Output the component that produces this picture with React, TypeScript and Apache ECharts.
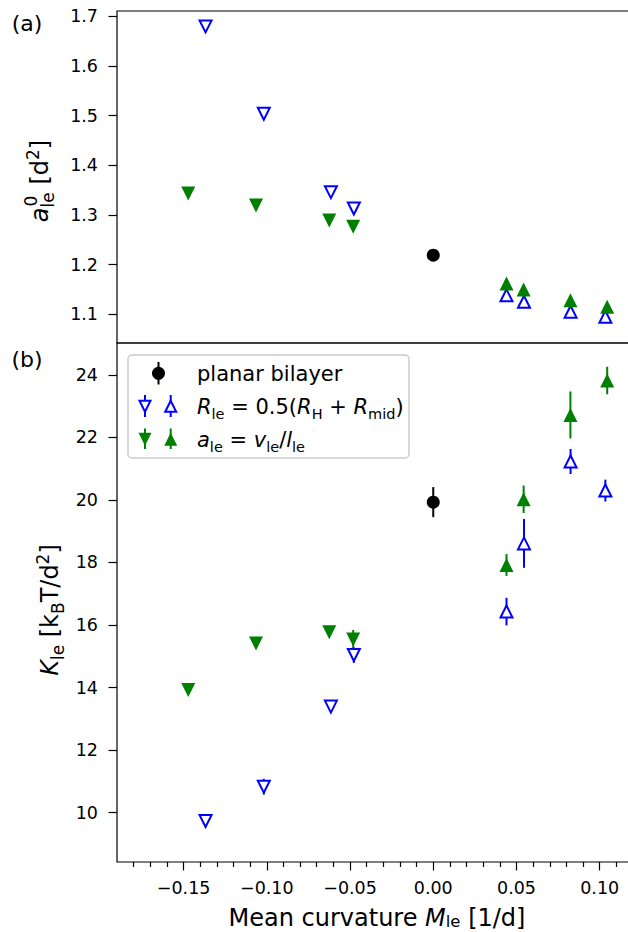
import React, { useEffect, useRef } from "react";
import * as echarts from "echarts";

// ---------- data ----------
const planarX = [0.0];
const blueDownX = [-0.1368, -0.1018, -0.0615, -0.0477];
const blueUpX = [0.044, 0.0545, 0.0825, 0.1034];
const greenDownX = [-0.1472, -0.1065, -0.0625, -0.0481];
const greenUpX = [0.044, 0.0543, 0.0824, 0.1045];

// panel (a): a0_le [d^2]
const aPlanar = [1.219];
const aBlueDown = [1.68, 1.504, 1.346, 1.313];
const aBlueUp = [1.138, 1.125, 1.105, 1.095];
const aGreenDown = [1.343, 1.319, 1.289, 1.276];
const aGreenUp = [1.162, 1.15, 1.128, 1.115];

// panel (b): K_le [kBT/d^2]
const kPlanar = [19.93];
const kPlanarErr = [0.48];
const kBlueDown = [9.73, 10.83, 13.39, 15.04];
const kBlueDownErr = [0.1, 0.25, 0.12, 0.25];
const kBlueUp = [16.43, 18.61, 21.23, 20.3];
const kBlueUpErr = [0.44, 0.78, 0.4, 0.35];
const kGreenDown = [13.92, 15.41, 15.77, 15.54];
const kGreenDownErr = [0.12, 0.12, 0.12, 0.3];
const kGreenUp = [17.92, 20.02, 22.72, 23.82];
const kGreenUpErr = [0.35, 0.44, 0.75, 0.44];

// ticks
const xMajorTicks = [-0.15, -0.1, -0.05, 0, 0.05, 0.1];
const xMinorTicks = [
  -0.18, -0.17, -0.16, -0.14, -0.13, -0.12, -0.11, -0.09, -0.08, -0.07, -0.06,
  -0.04, -0.03, -0.02, -0.01, 0.01, 0.02, 0.03, 0.04, 0.06, 0.07, 0.08, 0.09, 0.11,
];
const aTicks = [1.1, 1.2, 1.3, 1.4, 1.5, 1.6, 1.7];
const kTicks = [10, 12, 14, 16, 18, 20, 22, 24];

const X_MIN = -0.19;
const X_MAX = 0.12;
const A_MIN = 1.042;
const A_MAX = 1.711;
const K_MIN = 8.42;
const K_MAX = 25.02;

const BLUE = "#0000ff";
const GREEN = "#008000";
const BLACK = "#000000";
const FONT = "DejaVu Sans";

const zip = (xs: number[], ys: number[], es?: number[]) =>
  xs.map((x, i) => (es ? [x, ys[i], es[i]] : [x, ys[i]]));

export default function App() {
  const ref = useRef<HTMLDivElement>(null);

  useEffect(() => {
    if (!ref.current) return;
    const chart = echarts.init(ref.current, null, { renderer: "svg" });

    const tickLine = { color: BLACK, width: 1.2 };
    const labelBase = { color: BLACK, fontFamily: FONT, fontSize: 17.5 };
    const fmtX = (v: number) =>
      (v < -1e-9 ? "\u2212" : "") + Math.abs(v).toFixed(2);

    const scatter = (
      name: string,
      data: number[][],
      xi: number,
      yi: number,
      color: string,
      filled: boolean,
      rotate: number,
      symbol = "triangle"
    ) => ({
      name,
      type: "scatter",
      xAxisIndex: xi,
      yAxisIndex: yi,
      data,
      symbol,
      symbolRotate: rotate,
      symbolSize: symbol === "circle" ? 13 : filled ? 14 : 12,
      z: 5,
      itemStyle: filled
        ? { color, borderWidth: 0, opacity: 1 }
        : { color: "#ffffff", borderColor: color, borderWidth: 2, opacity: 1 },
      emphasis: { disabled: true },
    });

    const errbars = (data: number[][], color: string) => ({
      type: "custom",
      xAxisIndex: 1,
      yAxisIndex: 1,
      z: 3,
      data,
      renderItem: (_p: any, api: any) => {
        const x = api.value(0);
        const y = api.value(1);
        const e = api.value(2);
        const p1 = api.coord([x, y - e]);
        const p2 = api.coord([x, y + e]);
        return {
          type: "line",
          shape: { x1: p1[0], y1: p1[1], x2: p2[0], y2: p2[1] },
          style: { stroke: color, lineWidth: 2 },
        };
      },
    });

    const sub = (size: number, lh: number) => ({
      fontFamily: FONT,
      fontSize: size,
      lineHeight: lh,
      verticalAlign: "bottom",
      color: BLACK,
    });
    const sup = (size: number, lh: number) => ({
      fontFamily: FONT,
      fontSize: size,
      lineHeight: lh,
      verticalAlign: "top",
      color: BLACK,
    });
    const norm = (size: number, lh: number) => ({
      fontFamily: FONT,
      fontSize: size,
      lineHeight: lh,
      color: BLACK,
    });
    const ital = (size: number, lh: number) => ({
      fontFamily: FONT,
      fontSize: size,
      fontStyle: "italic",
      lineHeight: lh,
      color: BLACK,
    });

    const legRich = {
      n: norm(21, 30),
      i: ital(21, 30),
      s: sub(14.5, 14.5),
    };

    const tri = (cx: number, cy: number, up: boolean, h = 6) =>
      up
        ? [
            [cx, cy - h],
            [cx - h, cy + h],
            [cx + h, cy + h],
          ]
        : [
            [cx - h, cy - h],
            [cx + h, cy - h],
            [cx, cy + h],
          ];

    const legendEls: any[] = [
      {
        type: "rect",
        shape: { x: 128, y: 355, width: 281, height: 103, r: 4 },
        style: { fill: "rgba(255,255,255,0.85)", stroke: "#cccccc", lineWidth: 1.5 },
        z: 100,
      },
      // row 1
      { type: "line", shape: { x1: 158.5, y1: 362, x2: 158.5, y2: 384.5 }, style: { stroke: BLACK, lineWidth: 2 }, z: 101 },
      { type: "circle", shape: { cx: 158.5, cy: 373.3, r: 6.5 }, style: { fill: BLACK }, z: 102 },
      // row 2
      { type: "line", shape: { x1: 145, y1: 395, x2: 145, y2: 417 }, style: { stroke: BLUE, lineWidth: 2 }, z: 101 },
      { type: "polygon", shape: { points: tri(145, 406.2, false, 5.5) }, style: { fill: "#fff", stroke: BLUE, lineWidth: 2 }, z: 102 },
      { type: "line", shape: { x1: 170.7, y1: 395, x2: 170.7, y2: 417 }, style: { stroke: BLUE, lineWidth: 2 }, z: 101 },
      { type: "polygon", shape: { points: tri(170.7, 406.2, true, 5.5) }, style: { fill: "#fff", stroke: BLUE, lineWidth: 2 }, z: 102 },
      // row 3
      { type: "line", shape: { x1: 145, y1: 428.5, x2: 145, y2: 449 }, style: { stroke: GREEN, lineWidth: 2 }, z: 101 },
      { type: "polygon", shape: { points: tri(145, 439.3, false, 6.5) }, style: { fill: GREEN }, z: 102 },
      { type: "line", shape: { x1: 170.7, y1: 428.5, x2: 170.7, y2: 449 }, style: { stroke: GREEN, lineWidth: 2 }, z: 101 },
      { type: "polygon", shape: { points: tri(170.7, 439.3, true, 6.5) }, style: { fill: GREEN }, z: 102 },
      // texts
      {
        type: "text", x: 197, y: 373.5, z: 103,
        style: { text: "{n|planar bilayer}", rich: legRich, align: "left", verticalAlign: "middle" },
      },
      {
        type: "text", x: 197, y: 406.5, z: 103,
        style: {
          text: "{i|R}{s|le}{n| = 0.5(}{i|R}{s|H}{n| + }{i|R}{s|mid}{n|)}",
          rich: legRich, align: "left", verticalAlign: "middle",
        },
      },
      {
        type: "text", x: 197, y: 439.5, z: 103,
        style: {
          text: "{i|a}{s|le}{n| = }{i|v}{s|le}{n|/}{i|l}{s|le}",
          rich: legRich, align: "left", verticalAlign: "middle",
        },
      },
    ];

    const xTitleRich = {
      n: norm(24, 24),
      i: ital(24, 24),
      s: sub(16.5, 14),
    };
    const yTitleRich = {
      n: norm(24, 32),
      i: ital(24, 32),
      s: sub(17, 17),
      p: sup(17, 17),
    };

    const labelEls: any[] = [
      {
        type: "text", x: 27, y: 23,
        style: { text: "(a)", fontFamily: FONT, fontSize: 22, fill: BLACK, align: "center", verticalAlign: "middle" },
      },
      {
        type: "text", x: 27, y: 359,
        style: { text: "(b)", fontFamily: FONT, fontSize: 22, fill: BLACK, align: "center", verticalAlign: "middle" },
      },
      {
        type: "text", x: 377, y: 918,
        style: {
          text: "{n|Mean curvature }{i|M}{s|le}{n| [1/d]}",
          rich: xTitleRich, align: "center", verticalAlign: "middle",
        },
      },
      {
        type: "text", x: 40, y: 181, rotation: Math.PI / 2,
        style: {
          text: "{i|a}{s|le}{n| [d}{p|2}{n|]}",
          rich: yTitleRich, align: "center", verticalAlign: "middle",
        },
      },
      {
        type: "text", x: 30.5, y: 201, rotation: Math.PI / 2,
        style: { text: "0", fontFamily: FONT, fontSize: 17, fill: BLACK, align: "center", verticalAlign: "middle" },
      },
      {
        type: "text", x: 50, y: 610, rotation: Math.PI / 2,
        style: {
          text: "{i|K}{s|le}{n| [k}{s|B}{n|T/d}{p|2}{n|]}",
          rich: yTitleRich, align: "center", verticalAlign: "middle",
        },
      },
    ];

    const option: any = {
      animation: false,
      backgroundColor: "#ffffff",
      grid: [
        { left: 117, right: 7, top: 11, height: 332, show: true, borderColor: BLACK, borderWidth: 1.2, backgroundColor: "transparent" },
        { left: 117, right: 7, top: 343, height: 519, show: true, borderColor: BLACK, borderWidth: 1.2, backgroundColor: "transparent" },
      ],
      xAxis: [
        {
          type: "value", gridIndex: 0, min: X_MIN, max: X_MAX,
          axisLine: { show: false }, axisTick: { show: false }, axisLabel: { show: false }, splitLine: { show: false },
        },
        {
          type: "value", gridIndex: 1, min: X_MIN, max: X_MAX, position: "bottom",
          axisLine: { show: false, onZero: false },
          axisTick: { show: true, customValues: xMajorTicks, length: 8.5, lineStyle: tickLine },
          axisLabel: { ...labelBase, customValues: xMajorTicks, formatter: fmtX, margin: 17 },
          splitLine: { show: false },
        },
        {
          type: "value", gridIndex: 1, min: X_MIN, max: X_MAX, position: "bottom",
          axisLine: { show: false, onZero: false },
          axisTick: { show: true, customValues: xMinorTicks, length: 5, lineStyle: tickLine },
          axisLabel: { show: false },
          splitLine: { show: false },
        },
      ],
      yAxis: [
        {
          type: "value", gridIndex: 0, min: A_MIN, max: A_MAX,
          axisLine: { show: false, onZero: false },
          axisTick: { show: true, customValues: aTicks, length: 8.5, lineStyle: tickLine },
          axisLabel: { ...labelBase, customValues: aTicks, formatter: (v: number) => v.toFixed(1), margin: 19 },
          splitLine: { show: false },
        },
        {
          type: "value", gridIndex: 1, min: K_MIN, max: K_MAX,
          axisLine: { show: false, onZero: false },
          axisTick: { show: true, customValues: kTicks, length: 8.5, lineStyle: tickLine },
          axisLabel: { ...labelBase, customValues: kTicks, formatter: (v: number) => String(Math.round(v)), margin: 19 },
          splitLine: { show: false },
        },
      ],
      series: [
        // panel (a)
        scatter("planar a", zip(planarX, aPlanar), 0, 0, BLACK, true, 0, "circle"),
        scatter("blue down a", zip(blueDownX, aBlueDown), 0, 0, BLUE, false, 180),
        scatter("blue up a", zip(blueUpX, aBlueUp), 0, 0, BLUE, false, 0),
        scatter("green down a", zip(greenDownX, aGreenDown), 0, 0, GREEN, true, 180),
        scatter("green up a", zip(greenUpX, aGreenUp), 0, 0, GREEN, true, 0),
        // panel (b) error bars
        errbars(zip(planarX, kPlanar, kPlanarErr), BLACK),
        errbars(zip(blueDownX, kBlueDown, kBlueDownErr), BLUE),
        errbars(zip(blueUpX, kBlueUp, kBlueUpErr), BLUE),
        errbars(zip(greenDownX, kGreenDown, kGreenDownErr), GREEN),
        errbars(zip(greenUpX, kGreenUp, kGreenUpErr), GREEN),
        // panel (b) markers
        scatter("planar K", zip(planarX, kPlanar), 1, 1, BLACK, true, 0, "circle"),
        scatter("blue down K", zip(blueDownX, kBlueDown), 1, 1, BLUE, false, 180),
        scatter("blue up K", zip(blueUpX, kBlueUp), 1, 1, BLUE, false, 0),
        scatter("green down K", zip(greenDownX, kGreenDown), 1, 1, GREEN, true, 180),
        scatter("green up K", zip(greenUpX, kGreenUp), 1, 1, GREEN, true, 0),
      ],
      graphic: [...legendEls, ...labelEls],
    };

    chart.setOption(option);
    return () => chart.dispose();
  }, []);

  return (
    <div
      style={{
        position: "fixed",
        left: 0,
        top: 0,
        width: 628,
        height: 932,
        overflow: "hidden",
        background: "#fff",
      }}
    >
      <div ref={ref} style={{ width: 640, height: 932 }} />
    </div>
  );
}
